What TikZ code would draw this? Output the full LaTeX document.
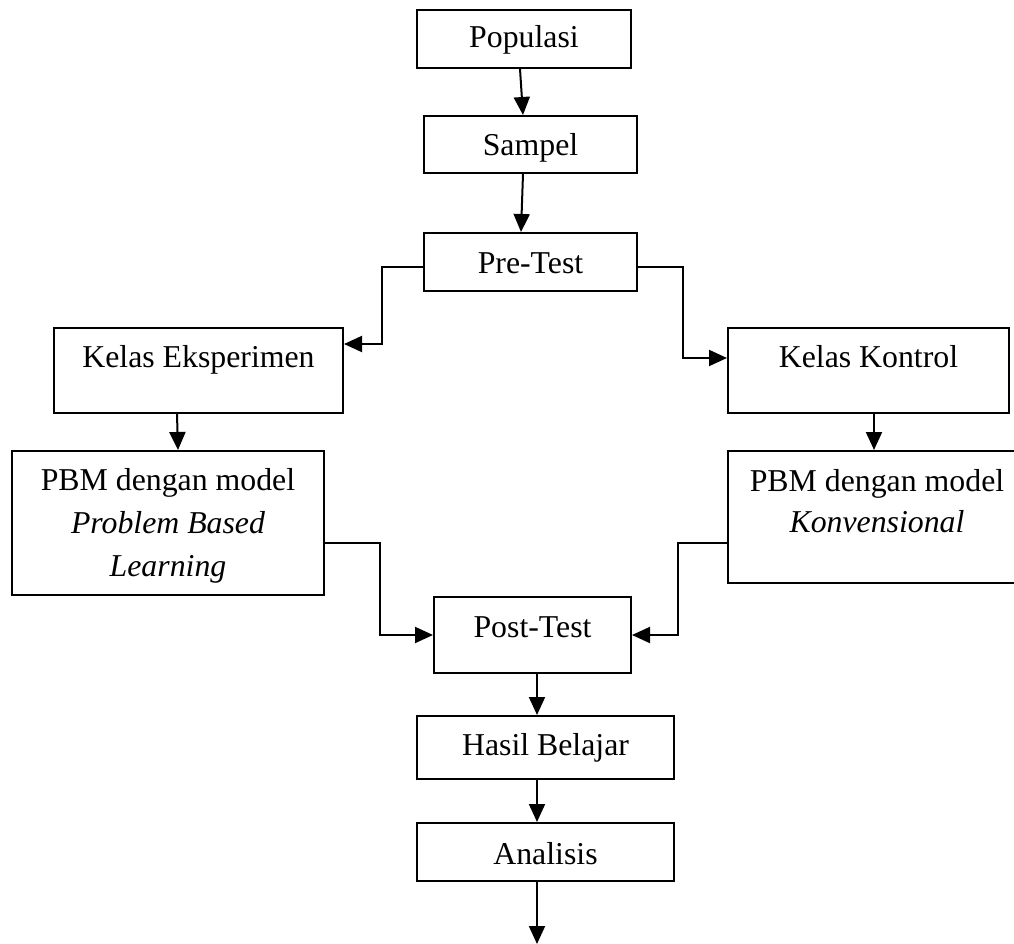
\documentclass[tikz,border=0pt]{standalone}
\usepackage{fontspec}
\setmainfont{Liberation Serif}
\usetikzlibrary{arrows.meta}
\begin{document}
\begin{tikzpicture}[x=1pt,y=1pt,
  box/.style={draw, line width=2pt, rectangle, inner sep=0pt, anchor=center},
  txt/.style={anchor=base, inner sep=0pt, font=\fontsize{31.8}{43}\selectfont},
  arr/.style={line width=2pt, -{Triangle[length=18pt,width=16pt]}},
  ln/.style={line width=2pt}]
\useasboundingbox (0,0) rectangle (1014,-944);
% boxes
\node[box, minimum width=214pt, minimum height=58pt] (pop) at (524,-39) {};
\node[box, minimum width=213pt, minimum height=57pt] (sam) at (530.5,-144.5) {};
\node[box, minimum width=213pt, minimum height=58pt] (pre) at (530.5,-262) {};
\node[box, minimum width=289pt, minimum height=85pt] (ke) at (198.5,-370.5) {};
\node[box, minimum width=281pt, minimum height=85pt] (kk) at (868.5,-370.5) {};
\node[box, minimum width=312pt, minimum height=144pt] (pbl) at (168,-523) {};
\node[box, minimum width=298pt, minimum height=132pt] (pbr) at (877,-517) {};
\node[box, minimum width=197pt, minimum height=76pt] (post) at (532.5,-635) {};
\node[box, minimum width=257pt, minimum height=63pt] (hasil) at (545.5,-747.5) {};
\node[box, minimum width=257pt, minimum height=58pt] (ana) at (545.5,-852) {};
% texts
\node[txt] (tpop) at (524,-48) {Populasi};
\node[txt] (tsam) at (530.5,-156) {Sampel};
\node[txt] (tpre) at (530.5,-273) {Pre-Test};
\node[txt] (tke) at (198.5,-367) {Kelas Eksperimen};
\node[txt] (tkk) at (868.5,-367) {Kelas Kontrol};
\node[txt] (tpbl1) at (168,-490) {PBM dengan model};
\node[txt] (tpbl2) at (168,-533) {\itshape Problem Based};
\node[txt] (tpbl3) at (168,-576) {\itshape Learning};
\node[txt] (tpbr1) at (877,-491) {PBM dengan model};
\node[txt] (tpbr2) at (877,-532) {\itshape Konvensional};
\node[txt] (tpost) at (532.5,-637) {Post-Test};
\node[txt] (thasil) at (545.5,-755) {Hasil Belajar};
\node[txt] (tana) at (545.5,-864) {Analisis};
\coordinate (end) at (537,-944);
% connectors
\draw[arr] ([xshift=-4pt]pop.south) -- ([xshift=-7.5pt]sam.north);
\draw[arr] ([xshift=-7.5pt]sam.south) -- ([xshift=-9.5pt]pre.north);
\draw[arr] ([yshift=-5pt]pre.west) -- ++(-41,0) |- ([yshift=26.5pt]ke.east);
\draw[arr] ([yshift=-5pt]pre.east) -- ++(45,0) |- ([yshift=12.5pt]kk.west);
\draw[arr] ([xshift=-21.5pt]ke.south) -- ([xshift=10pt]pbl.north);
\draw[arr] ([xshift=5.5pt]kk.south) -- ([xshift=-3pt]pbr.north);
\draw[arr] ([yshift=-20pt]pbl.east) -- ++(55,0) |- (post.west);
\draw[arr] ([yshift=-26pt]pbr.west) -- ++(-49,0) |- (post.east);
\draw[arr] ([xshift=4.5pt]post.south) -- ([xshift=-8.5pt]hasil.north);
\draw[arr] ([xshift=-8.5pt]hasil.south) -- ([xshift=-8.5pt]ana.north);
\draw[arr] ([xshift=-8.5pt]ana.south) -- (end);
\end{tikzpicture}
\end{document}
